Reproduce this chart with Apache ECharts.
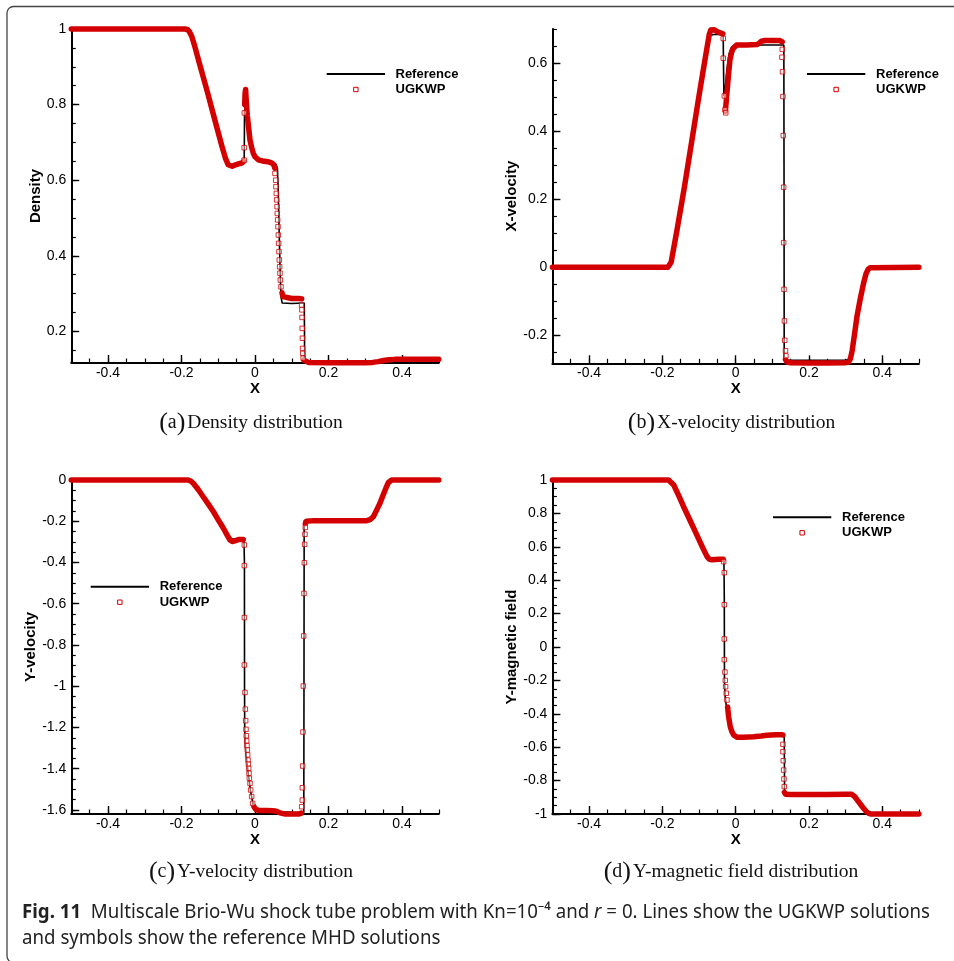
<!DOCTYPE html>
<html>
<head>
<meta charset="utf-8">
<title>Multiscale Brio-Wu shock tube</title>
<script src="https://cdn.jsdelivr.net/npm/echarts@6/dist/echarts.min.js"></script>
<style>
  html, body { margin: 0; padding: 0; background: #fff; }
  #chart { width: 954px; height: 961px; }
</style>
</head>
<body>
<div id="chart"></div>
<script>
// ---------- tick labels ----------
const xMajorTicks = [-0.4, -0.2, 0, 0.2, 0.4];
const densityTicks = [0.2, 0.4, 0.6, 0.8, 1];
const xVelocityTicks = [-0.2, 0, 0.2, 0.4, 0.6];
const yVelocityTicks = [-1.6, -1.4, -1.2, -1, -0.8, -0.6, -0.4, -0.2, 0];
const magneticTicks = [-1, -0.8, -0.6, -0.4, -0.2, 0, 0.2, 0.4, 0.6, 0.8, 1];

// ---------- axis ranges ----------
const xRange = [-0.5, 0.5];
const densityRange = [0.1164, 1];
const xVelocityRange = [-0.2828, 0.702];
const yVelocityRange = [-1.6194, 0];
const magneticRange = [-1, 1];

// ---------- (a) density ----------
const densityReference = [
  [-0.5, 1], [-0.186, 1], [-0.179, 0.994], [-0.172, 0.98], [-0.165, 0.958], [-0.13, 0.835],
  [-0.09, 0.69], [-0.079, 0.654], [-0.072, 0.639], [-0.065, 0.635], [-0.055, 0.638], [-0.04, 0.643],
  [-0.0295, 0.646], [-0.029, 0.70], [-0.0285, 0.78], [-0.027, 0.79], [-0.024, 0.775], [-0.02, 0.745],
  [-0.015, 0.712], [-0.009, 0.684], [-0.004, 0.668], [0.002, 0.657], [0.01, 0.652], [0.03, 0.65],
  [0.05, 0.646], [0.057, 0.642], [0.061, 0.63], [0.063, 0.58], [0.066, 0.45], [0.069, 0.34],
  [0.071, 0.29], [0.074, 0.275], [0.1, 0.274], [0.134, 0.275], [0.1347, 0.2], [0.135, 0.117],
  [0.2, 0.117], [0.31, 0.117], [0.33, 0.119], [0.35, 0.123], [0.37, 0.125], [0.5, 0.125]
];
const densityUgkwpBand = [
  [[-0.5, 1], [-0.19, 1], [-0.183, 0.998], [-0.178, 0.992], [-0.172, 0.98], [-0.165, 0.958],
   [-0.15, 0.905], [-0.13, 0.835], [-0.11, 0.762], [-0.09, 0.69], [-0.08, 0.657], [-0.073, 0.641],
   [-0.068, 0.636], [-0.062, 0.637], [-0.055, 0.64], [-0.045, 0.643], [-0.035, 0.646], [-0.031, 0.65]],
  [[-0.028, 0.80], [-0.027, 0.83], [-0.0255, 0.84], [-0.0235, 0.805], [-0.021, 0.772], [-0.0175, 0.74],
   [-0.0136, 0.706], [-0.009, 0.686], [-0.0046, 0.671], [0.0, 0.662], [0.009, 0.654], [0.02, 0.651],
   [0.035, 0.649], [0.045, 0.646], [0.051, 0.641], [0.054, 0.632]],
  [[0.0735, 0.302], [0.076, 0.292], [0.08, 0.288], [0.1, 0.287], [0.12, 0.287], [0.127, 0.286]],
  [[0.133, 0.124], [0.136, 0.119], [0.145, 0.118], [0.2, 0.117], [0.3, 0.117], [0.32, 0.118],
   [0.335, 0.12], [0.35, 0.123], [0.365, 0.125], [0.38, 0.126], [0.5, 0.126]]
];
const densityUgkwpJump = [
  [-0.0295, 0.653], [-0.0295, 0.686], [-0.029, 0.778],
  [0.0544, 0.618], [0.0563, 0.6], [0.0571, 0.583], [0.058, 0.565], [0.059, 0.548], [0.06, 0.53],
  [0.0607, 0.512], [0.0616, 0.495], [0.0626, 0.477], [0.0635, 0.455], [0.0644, 0.433], [0.0653, 0.411],
  [0.0662, 0.389], [0.067, 0.371], [0.068, 0.354], [0.0689, 0.336], [0.0707, 0.318],
  [0.1268, 0.27], [0.1275, 0.257], [0.128, 0.237], [0.1285, 0.208], [0.129, 0.182], [0.1295, 0.155],
  [0.13, 0.142], [0.131, 0.129]
];

// ---------- (b) x-velocity ----------
const xVelocityReference = [
  [-0.5, 0], [-0.183, 0], [-0.178, 0.004], [-0.172, 0.03], [-0.16, 0.1], [-0.124, 0.345], [-0.087, 0.591],
  [-0.075, 0.665], [-0.068, 0.684], [-0.06, 0.686], [-0.045, 0.686], [-0.034, 0.684], [-0.0332, 0.6],
  [-0.032, 0.505], [-0.029, 0.52], [-0.024, 0.58], [-0.018, 0.628], [-0.012, 0.647], [-0.005, 0.654],
  [0, 0.655], [0.06, 0.655], [0.1315, 0.655], [0.132, 0.3], [0.1325, -0.273], [0.2, -0.274], [0.3, -0.273],
  [0.308, -0.272], [0.313, -0.266], [0.318, -0.245], [0.324, -0.2], [0.331, -0.145], [0.34, -0.093],
  [0.349, -0.047], [0.356, -0.018], [0.362, -0.005], [0.368, -0.001], [0.372, 0], [0.5, 0]
];
const xVelocityUgkwpBand = [
  [[-0.5, 0], [-0.185, 0], [-0.18, 0.003], [-0.176, 0.015], [-0.17, 0.05], [-0.16, 0.11], [-0.14, 0.235],
   [-0.12, 0.37], [-0.1, 0.505], [-0.087, 0.59], [-0.078, 0.648], [-0.072, 0.686], [-0.068, 0.699],
   [-0.064, 0.703], [-0.058, 0.7], [-0.05, 0.694], [-0.04, 0.69], [-0.035, 0.688]],
  [[-0.028, 0.46], [-0.0246, 0.503], [-0.02, 0.561], [-0.0156, 0.611], [-0.011, 0.634], [-0.0065, 0.645],
   [0.0027, 0.655], [0.03, 0.655], [0.058, 0.656], [0.064, 0.66], [0.07, 0.666], [0.08, 0.668],
   [0.1, 0.668], [0.121, 0.668], [0.127, 0.664]],
  [[0.136, -0.272], [0.14, -0.279], [0.15, -0.281], [0.2, -0.282], [0.25, -0.282], [0.3, -0.281],
   [0.308, -0.279], [0.313, -0.27], [0.318, -0.245], [0.324, -0.2], [0.331, -0.145], [0.34, -0.093],
   [0.349, -0.047], [0.356, -0.018], [0.362, -0.005], [0.368, -0.001], [0.372, 0], [0.5, 0]]
];
const xVelocityUgkwpJump = [
  [-0.0338, 0.674], [-0.0338, 0.616], [-0.031, 0.505], [-0.029, 0.464], [-0.027, 0.455],
  [0.1272, 0.642], [0.1263, 0.619], [0.128, 0.576], [0.129, 0.503], [0.13, 0.388], [0.131, 0.236],
  [0.131, 0.0725], [0.132, -0.065], [0.133, -0.158], [0.134, -0.215], [0.136, -0.246], [0.137, -0.261]
];

// ---------- (c) y-velocity ----------
const yVelocityReference = [
  [-0.5, 0], [-0.182, 0], [-0.168, -0.016], [-0.141, -0.081], [-0.113, -0.154], [-0.086, -0.234],
  [-0.072, -0.276], [-0.066, -0.285], [-0.03, -0.285], [-0.0288, -0.4], [-0.0285, -1.0], [-0.028, -1.2],
  [-0.026, -1.29], [-0.022, -1.37], [-0.017, -1.44], [-0.012, -1.51], [-0.006, -1.565], [-0.002, -1.595],
  [0.002, -1.605], [0.05, -1.607], [0.1, -1.611], [0.1328, -1.612], [0.1333, -1.0], [0.1338, -0.197],
  [0.2, -0.197], [0.305, -0.197], [0.313, -0.192], [0.322, -0.178], [0.34, -0.113], [0.358, -0.032],
  [0.367, -0.003], [0.372, 0], [0.5, 0]
];
const yVelocityUgkwpBand = [
  [[-0.5, 0], [-0.182, 0], [-0.175, -0.005], [-0.168, -0.016], [-0.155, -0.045], [-0.141, -0.081],
   [-0.127, -0.117], [-0.113, -0.154], [-0.1, -0.193], [-0.086, -0.234], [-0.075, -0.27], [-0.068, -0.291],
   [-0.062, -0.298], [-0.055, -0.295], [-0.045, -0.289], [-0.032, -0.289]],
  [[-0.0027, -1.584], [0.002, -1.597], [0.01, -1.602], [0.03, -1.603], [0.05, -1.604], [0.06, -1.607],
   [0.068, -1.614], [0.08, -1.619], [0.1, -1.619], [0.12, -1.619], [0.126, -1.615]],
  [[0.137, -0.212], [0.14, -0.2], [0.16, -0.197], [0.2, -0.197], [0.25, -0.197], [0.304, -0.197],
   [0.313, -0.192], [0.322, -0.178], [0.331, -0.146], [0.34, -0.113], [0.349, -0.072], [0.358, -0.032],
   [0.363, -0.012], [0.367, -0.003], [0.372, 0], [0.5, 0]]
];
const yVelocityUgkwpJump = [
  [-0.029, -0.315], [-0.029, -0.415], [-0.029, -0.667], [-0.029, -0.897], [-0.0272, -1.03],
  [-0.0263, -1.111], [-0.0254, -1.167], [-0.0245, -1.209], [-0.0236, -1.24], [-0.0227, -1.265],
  [-0.0218, -1.288], [-0.0209, -1.309], [-0.02, -1.333], [-0.019, -1.358], [-0.0181, -1.377],
  [-0.0172, -1.398], [-0.0163, -1.422], [-0.0154, -1.446], [-0.0136, -1.471], [-0.0118, -1.503],
  [-0.0091, -1.535], [-0.0063, -1.568],
  [0.127, -1.584], [0.1288, -1.552], [0.1288, -1.492], [0.1297, -1.387], [0.1306, -1.222],
  [0.1315, -0.999], [0.1324, -0.756], [0.1333, -0.55], [0.1342, -0.401], [0.1351, -0.312],
  [0.136, -0.263], [0.1369, -0.23]
];

// ---------- (d) y-magnetic field ----------
const magneticReference = [
  [-0.5, 1], [-0.183, 1], [-0.176, 0.99], [-0.169, 0.97], [-0.142, 0.84], [-0.106, 0.671], [-0.08, 0.548],
  [-0.072, 0.527], [-0.06, 0.523], [-0.032, 0.525], [-0.031, 0.3], [-0.0305, -0.2], [-0.029, -0.29],
  [-0.025, -0.36], [-0.02, -0.42], [-0.015, -0.475], [-0.01, -0.51], [-0.004, -0.53], [0.004, -0.538],
  [0.03, -0.537], [0.07, -0.531], [0.1, -0.527], [0.1325, -0.526], [0.133, -0.7], [0.1335, -0.882],
  [0.2, -0.882], [0.318, -0.882], [0.325, -0.895], [0.331, -0.914], [0.349, -0.966], [0.363, -0.996],
  [0.372, -1], [0.5, -1]
];
const magneticUgkwpBand = [
  [[-0.5, 1], [-0.183, 1], [-0.178, 0.993], [-0.169, 0.97], [-0.155, 0.905], [-0.142, 0.84],
   [-0.124, 0.756], [-0.106, 0.671], [-0.09, 0.595], [-0.078, 0.541], [-0.072, 0.526], [-0.065, 0.522],
   [-0.055, 0.524], [-0.045, 0.526], [-0.034, 0.525]],
  [[-0.0219, -0.36], [-0.0192, -0.417], [-0.0147, -0.477], [-0.01, -0.508], [-0.0055, -0.527],
   [0.0036, -0.541], [0.02, -0.54], [0.049, -0.537], [0.07, -0.533], [0.0855, -0.529], [0.11, -0.526],
   [0.1263, -0.525], [0.129, -0.527]],
  [[0.133, -0.87], [0.136, -0.882], [0.15, -0.883], [0.2, -0.883], [0.25, -0.883], [0.3, -0.882],
   [0.317, -0.882], [0.324, -0.894], [0.331, -0.914], [0.34, -0.94], [0.349, -0.966], [0.356, -0.984],
   [0.363, -0.996], [0.37, -1], [0.5, -1]]
];
const magneticUgkwpJump = [
  [-0.0328, 0.511], [-0.031, 0.445], [-0.031, 0.253], [-0.031, 0.048], [-0.031, -0.076],
  [-0.0292, -0.15], [-0.0283, -0.2], [-0.0274, -0.238], [-0.0256, -0.277], [-0.0237, -0.317],
  [0.129, -0.583], [0.129, -0.627], [0.13, -0.681], [0.1309, -0.737], [0.1318, -0.79], [0.1327, -0.836]
];

// ---------- styling ----------
const RED = '#d40000';
const SANS = '"Liberation Sans", Arial, Helvetica, sans-serif';
const SERIF = '"Liberation Serif", "Times New Roman", serif';
const CAPTION_FONT = '"Noto Sans", "Open Sans", sans-serif';

function minorTicks(range, step) {
  const out = [];
  for (let k = Math.ceil(range[0] / step - 1e-6); k * step <= range[1] + 1e-6; k++) {
    out.push(+(k * step).toFixed(4));
  }
  return out;
}

const panels = [
  { grid: { left: 71.25, top: 29, width: 367.5, height: 334 }, yRange: densityRange, yTicks: densityTicks,
    yName: 'Density', ref: densityReference, band: densityUgkwpBand, jump: densityUgkwpJump,
    legend: { x1: 326.7, x2: 385, y: 74, tx: 395.5 }, sub: { letter: 'a', text: 'Density distribution', cx: 251, cy: 423 } },
  { grid: { left: 552.4, top: 29, width: 366.5, height: 334.3 }, yRange: xVelocityRange, yTicks: xVelocityTicks,
    yName: 'X-velocity', ref: xVelocityReference, band: xVelocityUgkwpBand, jump: xVelocityUgkwpJump,
    legend: { x1: 807, x2: 865.3, y: 74, tx: 876 }, sub: { letter: 'b', text: 'X-velocity distribution', cx: 731.5, cy: 423 } },
  { grid: { left: 71.25, top: 480, width: 367.5, height: 334 }, yRange: yVelocityRange, yTicks: yVelocityTicks,
    yName: 'Y-velocity', ref: yVelocityReference, band: yVelocityUgkwpBand, jump: yVelocityUgkwpJump,
    legend: { x1: 90.7, x2: 149, y: 586.7, tx: 159.7 }, sub: { letter: 'c', text: 'Y-velocity distribution', cx: 251, cy: 872 } },
  { grid: { left: 552.4, top: 480, width: 366.5, height: 334 }, yRange: magneticRange, yTicks: magneticTicks,
    yName: 'Y-magnetic field', ref: magneticReference, band: magneticUgkwpBand, jump: magneticUgkwpJump,
    legend: { x1: 773, x2: 831.3, y: 517.3, tx: 842 }, sub: { letter: 'd', text: 'Y-magnetic field distribution', cx: 731, cy: 872 } }
];

const labelStyle = { color: '#000', fontFamily: SANS, fontSize: 14 };
const nameStyle = { color: '#000', fontFamily: SANS, fontSize: 15, fontWeight: 'bold' };

const grids = [], xAxes = [], yAxes = [], series = [], graphics = [];

panels.forEach((p, i) => {
  grids.push(Object.assign({ containLabel: false }, p.grid));

  // major x axis: axis line, long ticks, labels, name
  xAxes.push({
    gridIndex: i, type: 'value', position: 'bottom', min: xRange[0], max: xRange[1],
    name: 'X', nameLocation: 'middle', nameGap: 16, nameTextStyle: nameStyle,
    axisLine: { show: true, onZero: false, lineStyle: { color: '#000', width: 2 } },
    axisTick: { show: true, inside: true, length: 8, lineStyle: { color: '#000', width: 1.4 }, customValues: xMajorTicks },
    axisLabel: Object.assign({ margin: 3, customValues: xMajorTicks }, labelStyle),
    splitLine: { show: false }
  });
  // minor x axis: short ticks only
  xAxes.push({
    gridIndex: i, type: 'value', position: 'bottom', min: xRange[0], max: xRange[1],
    axisLine: { show: false, onZero: false },
    axisTick: { show: true, inside: true, length: 4.5, lineStyle: { color: '#000', width: 1.2 }, customValues: minorTicks(xRange, 0.05) },
    axisLabel: { show: false }, splitLine: { show: false }
  });
  yAxes.push({
    gridIndex: i, type: 'value', position: 'left', min: p.yRange[0], max: p.yRange[1],
    name: p.yName, nameLocation: 'middle', nameGap: 27, nameTextStyle: nameStyle,
    axisLine: { show: true, onZero: false, lineStyle: { color: '#000', width: 2 } },
    axisTick: { show: true, inside: true, length: 8, lineStyle: { color: '#000', width: 1.4 }, customValues: p.yTicks },
    axisLabel: Object.assign({ margin: 5, customValues: p.yTicks }, labelStyle),
    splitLine: { show: false }
  });
  yAxes.push({
    gridIndex: i, type: 'value', position: 'left', min: p.yRange[0], max: p.yRange[1],
    axisLine: { show: false, onZero: false },
    axisTick: { show: true, inside: true, length: 4.5, lineStyle: { color: '#000', width: 1.2 }, customValues: minorTicks(p.yRange, 0.05) },
    axisLabel: { show: false }, splitLine: { show: false }
  });

  const axisRef = { xAxisIndex: 2 * i, yAxisIndex: 2 * i };
  series.push(Object.assign({
    type: 'line', name: 'Reference', data: p.ref, symbol: 'none', clip: false, z: 2,
    lineStyle: { color: '#000', width: 1.6 }
  }, axisRef));
  p.band.forEach(seg => {
    series.push(Object.assign({
      type: 'line', name: 'UGKWP', data: seg, symbol: 'none', clip: false, z: 3,
      lineStyle: { color: RED, width: 5.5, cap: 'round', join: 'round' }
    }, axisRef));
  });
  series.push(Object.assign({
    type: 'scatter', name: 'UGKWP', data: p.jump, symbol: 'rect', symbolSize: 4.5, clip: false, z: 4,
    itemStyle: { color: 'rgba(255,255,255,0.6)', borderColor: RED, borderWidth: 1 }
  }, axisRef));

  // legend block
  const L = p.legend;
  const sqx = (L.x1 + L.x2) / 2, sqy = L.y + 15.5;
  graphics.push(
    { type: 'line', shape: { x1: L.x1, y1: L.y, x2: L.x2, y2: L.y }, style: { stroke: '#000', lineWidth: 2 }, z: 10 },
    { type: 'rect', shape: { x: sqx - 2.2, y: sqy - 2.2, width: 4.4, height: 4.4 }, style: { fill: '#fff', stroke: RED, lineWidth: 1 }, z: 10 },
    { type: 'text', x: L.tx, y: L.y, style: { text: 'Reference', fontFamily: SANS, fontSize: 13, fontWeight: 'bold', fill: '#000', align: 'left', verticalAlign: 'middle' }, z: 10 },
    { type: 'text', x: L.tx, y: sqy, style: { text: 'UGKWP', fontFamily: SANS, fontSize: 13, fontWeight: 'bold', fill: '#000', align: 'left', verticalAlign: 'middle' }, z: 10 }
  );

  // sub-figure caption
  const S = p.sub;
  graphics.push({
    type: 'text', x: S.cx, y: S.cy, z: 10,
    style: {
      text: '{p|(}{l|' + S.letter + '}{p|)}{t|' + S.text + '}',
      align: 'center', verticalAlign: 'middle', fill: '#111',
      rich: {
        p: { fontFamily: SERIF, fontSize: 26, verticalAlign: 'middle', fill: '#111' },
        l: { fontFamily: SERIF, fontSize: 20, verticalAlign: 'middle', fill: '#111' },
        t: { fontFamily: SERIF, fontSize: 19.5, verticalAlign: 'middle', fill: '#111', padding: [0, 0, 0, 2] }
      }
    }
  });
});

// figure caption, narrowed to fit the text column
const CAP_SIZE = 19.5;
const capParts = [
  ['Fig. 11', 'bold'], ['  Multiscale Brio-Wu shock tube problem with Kn=10\u207B\u2074 and ', 'normal'],
  ['r', 'italic'], [' = 0. Lines show the UGKWP solutions', 'normal']
];
const ctx = document.createElement('canvas').getContext('2d');
let capWidth = 0;
capParts.forEach(([s, kind]) => {
  ctx.font = (kind === 'bold' ? 'bold ' : kind === 'italic' ? 'italic ' : '') + CAP_SIZE + 'px ' + CAPTION_FONT;
  capWidth += ctx.measureText(s).width;
});
const capScale = 908 / capWidth;
graphics.push(
  { type: 'text', x: 22, y: 912, scaleX: capScale, z: 10,
    style: {
      text: '{b|Fig. 11}  Multiscale Brio-Wu shock tube problem with Kn=10\u207B\u2074 and {i|r} = 0. Lines show the UGKWP solutions',
      fontFamily: CAPTION_FONT, fontSize: CAP_SIZE, fill: '#222', align: 'left', verticalAlign: 'middle',
      rich: {
        b: { fontFamily: CAPTION_FONT, fontSize: CAP_SIZE, fontWeight: 'bold', fill: '#222' },
        i: { fontFamily: CAPTION_FONT, fontSize: CAP_SIZE, fontStyle: 'italic', fill: '#222' }
      }
    } },
  { type: 'text', x: 22, y: 938, scaleX: capScale, z: 10,
    style: { text: 'and symbols show the reference MHD solutions', fontFamily: CAPTION_FONT, fontSize: CAP_SIZE,
      fill: '#222', align: 'left', verticalAlign: 'middle' } },
  // figure frame (right and bottom edges fall outside the page)
  { type: 'rect', z: 1,
    shape: { x: 7, y: 6.5, width: 1000, height: 956, r: [6.5, 0, 0, 6.5] },
    style: { fill: null, stroke: '#444', lineWidth: 1.3 } }
);

const chart = echarts.init(document.getElementById('chart'), null, { renderer: 'canvas', width: 954, height: 961 });
chart.setOption({
  animation: false,
  backgroundColor: '#fff',
  textStyle: { fontFamily: SANS },
  grid: grids,
  xAxis: xAxes,
  yAxis: yAxes,
  series: series,
  graphic: { elements: graphics }
});
</script>
</body>
</html>
